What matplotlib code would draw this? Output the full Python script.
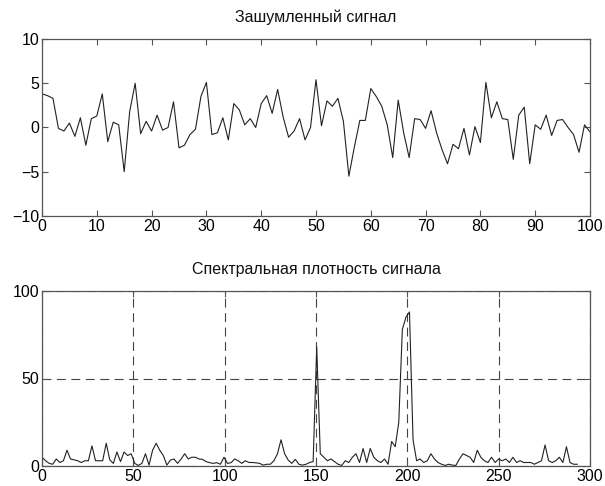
import numpy as np
import matplotlib
matplotlib.use("Agg")
import matplotlib.pyplot as plt

plt.rcParams['font.family'] = ['Liberation Sans', 'DejaVu Sans']

# ---- data ----
title_top = "Зашумленный сигнал"
title_bottom = "Спектральная плотность сигнала"

signal = [3.8, 3.6, 3.3, -0.1, -0.4, 0.5, -1.0, 1.1, -2.0, 1.0,
          1.3, 3.8, -1.6, 0.6, 0.3, -5.0, 1.8, 5.0, -0.7, 0.7,
          -0.4, 1.4, -0.3, 0.0, 2.9, -2.3, -2.0, -0.8, -0.2, 3.5,
          5.1, -0.8, -0.6, 1.1, -1.4, 2.7, 2.0, 0.3, 1.0, 0.0,
          2.7, 3.6, 1.6, 4.3, 1.2, -1.1, -0.4, 1.0, -1.4, 0.0,
          5.4, 0.2, 3.0, 2.4, 3.3, 0.7, -5.5, -2.2, 0.8, 0.8,
          4.4, 3.5, 2.4, 0.3, -3.4, 3.1, -0.6, -3.4, 1.0, 0.9,
          -0.1, 1.9, -0.6, -2.5, -4.1, -1.9, -2.4, -0.1, -3.1, 0.1,
          -1.7, 5.1, 1.1, 2.9, 1.0, 0.9, -3.6, 1.4, 2.3, -4.1,
          0.3, -0.2, 1.4, -0.9, 0.8, 0.9, 0.0, -0.8, -2.8, 0.3, -0.5]
sample_index = list(range(len(signal)))

psd = [5, 3, 1.5, 1, 4, 2, 3, 9, 4, 3.5,
       3, 2, 3, 3, 11.5, 3, 3, 3, 13, 3.5,
       1.5, 8, 2.5, 8, 6, 7, 1.5, 0.3, 1.5, 7,
       0.5, 9, 13, 9, 6, 0.5, 3.4, 4, 1.5, 4,
       7, 4, 5, 5, 4, 3.8, 2.5, 1.9, 1.5, 1.9,
       1, 5, 1.5, 1.9, 4, 3, 1.5, 3, 2, 2,
       1.8, 1.5, 0.5, 1, 1, 3, 7, 15, 7, 3.4,
       1.5, 3.8, 1, 0.5, 1, 2, 2.5, 68, 7, 5,
       3, 4, 2.5, 1, 0.3, 3, 2, 5, 7, 2,
       10, 2, 10, 5, 3, 2, 4, 1, 14, 11,
       25, 78, 85, 88, 15, 3, 4, 2, 3, 7,
       4, 2, 1, 0.3, 1, 0.5, 0.3, 4, 7, 6,
       5, 2, 9, 5, 3, 2, 5, 2, 4, 3,
       4, 2, 5, 2, 3, 2, 2, 2, 1, 2,
       3, 12, 3, 2, 3, 5, 2, 11, 2, 1, 1]
freq_step = 1000 / 512
freq = [i * freq_step for i in range(len(psd))]

top_xticks = [0, 10, 20, 30, 40, 50, 60, 70, 80, 90, 100]
top_yticks = [-10, -5, 0, 5, 10]
bot_xticks = [0, 50, 100, 150, 200, 250, 300]
bot_yticks = [0, 50, 100]

# ---- figure ----
fig = plt.figure(figsize=(6.05, 4.86), dpi=100)
W, H = 605, 486
ax1 = fig.add_axes([42 / W, 1 - 216 / H, 548 / W, 177 / H])
ax2 = fig.add_axes([42 / W, 1 - 466 / H, 548 / W, 175 / H])

line_col = '#222222'
spine_col = '#555555'
tick_fs = 11.5

for ax in (ax1, ax2):
    for s in ax.spines.values():
        s.set_color(spine_col)
        s.set_linewidth(0.9)
    ax.tick_params(direction='in', top=True, right=True, length=4,
                   width=0.8, color=spine_col, labelsize=tick_fs,
                   labelcolor='#000000', pad=2)

ax1.plot(sample_index, signal, color=line_col, linewidth=0.8)
ax1.set_xlim(0, 100)
ax1.set_ylim(-10, 10)
ax1.set_xticks(top_xticks)
ax1.set_yticks(top_yticks)
ax1.set_title(title_top, fontsize=11.5, pad=12, color='#111111')

ax2.plot(freq, psd, color=line_col, linewidth=0.8)
ax2.set_xlim(0, 300)
ax2.set_ylim(0, 100)
ax2.set_xticks(bot_xticks)
ax2.set_yticks(bot_yticks)
ax2.grid(True, linestyle=(0, (8, 5)), color='#444444', linewidth=0.8)
ax2.set_axisbelow(True)
ax2.set_title(title_bottom, fontsize=11.5, pad=12, color='#111111')

fig.savefig("out.png", dpi=100)
